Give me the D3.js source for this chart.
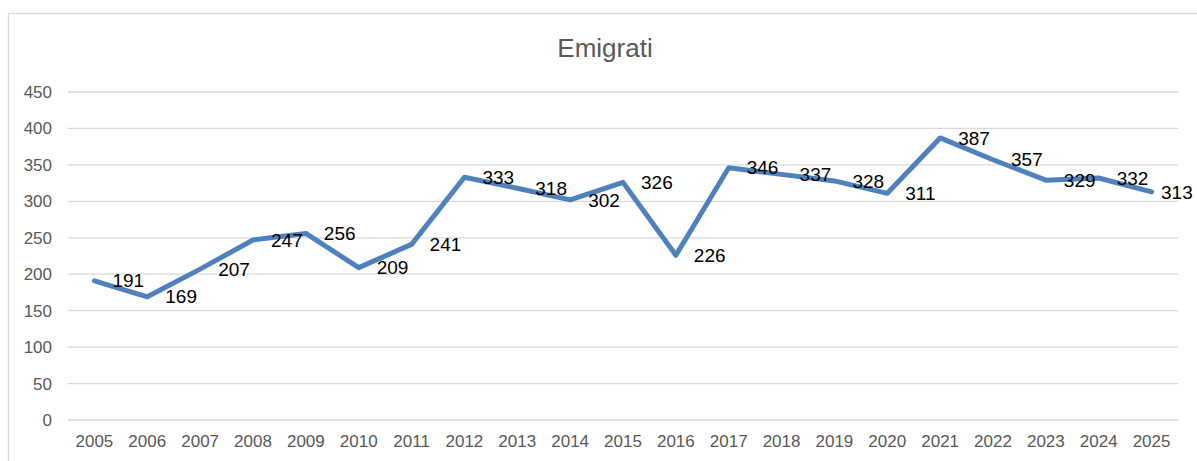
<!DOCTYPE html>
<html>
<head>
<meta charset="utf-8">
<script src="https://cdn.jsdelivr.net/npm/d3@7"></script>
<style>
  body { margin: 0; background: #fff; }
  svg { font-family: "Liberation Sans", Arial, sans-serif; }
</style>
</head>
<body>
<svg id="canvas" width="1197" height="461"></svg>
<script>
let years = ['2005','2006','2007','2008','2009','2010','2011','2012','2013','2014','2015',
             '2016','2017','2018','2019','2020','2021','2022','2023','2024','2025']
let emigrati = [191,169,207,247,256,209,241,333,318,302,326,226,346,337,328,311,387,357,329,332,313]
let yTicks = [0,50,100,150,200,250,300,350,400,450]

let svg = d3.select('#canvas')

// chart frame (only top and left edges show in the picture)
svg.append('rect')
    .attr('x', 8.5)
    .attr('y', 13.5)
    .attr('width', 1300)
    .attr('height', 600)
    .attr('fill', 'none')
    .attr('stroke', '#d9d9d9')
    .attr('stroke-width', 1.3)

let x = d3.scaleBand()
    .domain(years)
    .range([68, 1178])

let y = d3.scaleLinear()
    .domain([0, 450])
    .range([420, 92])

// gridlines
svg.append('g')
    .selectAll('line')
    .data(yTicks)
    .enter()
    .append('line')
    .attr('x1', 68)
    .attr('x2', 1178)
    .attr('y1', (d) => y(d))
    .attr('y2', (d) => y(d))
    .attr('stroke', '#d9d9d9')
    .attr('stroke-width', 1.3)

// y axis labels
svg.append('g')
    .selectAll('text')
    .data(yTicks)
    .enter()
    .append('text')
    .attr('x', 52)
    .attr('y', (d) => y(d))
    .attr('dy', '0.35em')
    .attr('text-anchor', 'end')
    .attr('font-size', 17)
    .attr('fill', '#595959')
    .text((d) => d)

// x axis labels
svg.append('g')
    .selectAll('text')
    .data(years)
    .enter()
    .append('text')
    .attr('x', (d) => x(d) + x.bandwidth() / 2)
    .attr('y', 447)
    .attr('text-anchor', 'middle')
    .attr('font-size', 17)
    .attr('fill', '#595959')
    .text((d) => d)

// title
svg.append('text')
    .attr('x', 605)
    .attr('y', 57)
    .attr('text-anchor', 'middle')
    .attr('font-size', 26)
    .attr('fill', '#595959')
    .text('Emigrati')

let line = d3.line()
    .x((d, i) => x(years[i]) + x.bandwidth() / 2)
    .y((d) => y(d))

svg.append('path')
    .datum(emigrati)
    .attr('d', line)
    .attr('fill', 'none')
    .attr('stroke', '#4f81bd')
    .attr('stroke-width', 5)
    .attr('stroke-linejoin', 'round')
    .attr('stroke-linecap', 'round')

// data labels, right of each point; kept inside the frame at the far end
svg.append('g')
    .selectAll('text')
    .data(emigrati)
    .enter()
    .append('text')
    .attr('x', (d, i) => Math.min(x(years[i]) + x.bandwidth() / 2 + 18, 1161))
    .attr('y', (d) => y(d))
    .attr('dy', '0.35em')
    .attr('font-size', 19)
    .attr('fill', '#000')
    .text((d) => d)
</script>
</body>
</html>
